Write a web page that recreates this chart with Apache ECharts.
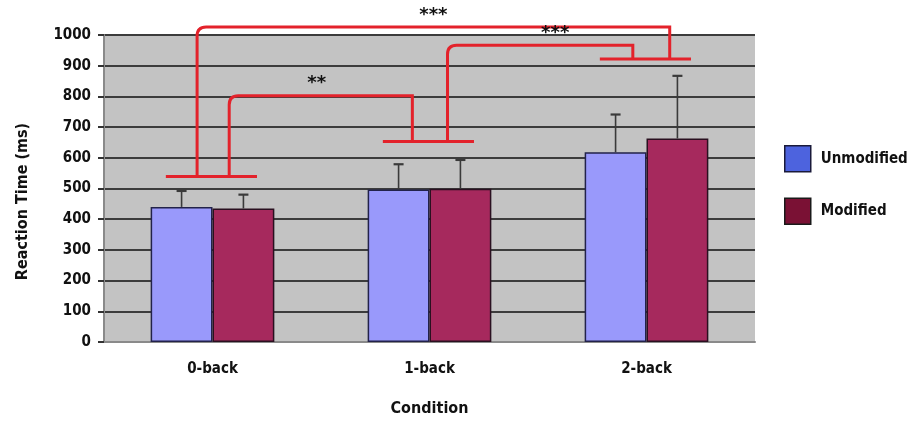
<!DOCTYPE html>
<html><head><meta charset="utf-8">
<script src="https://cdn.jsdelivr.net/npm/echarts@6/dist/echarts.min.js"></script>
<style>html,body{margin:0;padding:0;background:#fff}#c{width:907px;height:422px}</style>
</head><body><div id="c"></div>
<script>
const categories = ['0-back', '1-back', '2-back'];
const seriesNames = ['Unmodified', 'Modified'];
const unmodified = [440, 497, 618];
const modified = [435, 499, 663];
const unmodifiedErrTop = [492, 579, 741];
const modifiedErrTop = [480, 593, 867];
const yMin = 0, yMax = 1000, yInterval = 100;
// significance brackets (value levels)
const bracketFrom = [0, 0, 1];
const bracketTo = [1, 2, 2];
const bracketTop = [802, 1026, 967];
const bracketLabels = ['**', '***', '***'];
const bracketBase = [539, 653, 922]; // base bar level per category

const FONT = '"DejaVu Sans Condensed", "Liberation Sans Narrow", sans-serif';
const RED = '#e3222b';
// layout offsets (fraction of category band)
const fromOff = [0.077, -0.071, 0.083];
const toOff = [-0.079, 0.107, -0.063];
const labelShift = [-4, 0, 15];

const chart = echarts.init(document.getElementById('c'), null, {renderer: 'canvas'});

const errData = (vals, tops) => vals.map((v, i) => [i, v, tops[i]]);

function errRender(side) {
  return function (params, api) {
    const c = api.value(0);
    const p0 = api.coord([c, api.value(1)]);
    const p1 = api.coord([c, api.value(2)]);
    const band = api.size([1, 0])[0];
    const x = p0[0] + side * band * 0.1425;
    const st = {stroke: '#3a3a3a', lineWidth: 1.6};
    return {type: 'group', children: [
      {type: 'line', shape: {x1: x, y1: p0[1], x2: x, y2: p1[1]}, style: st},
      {type: 'line', shape: {x1: x - 5, y1: p1[1], x2: x + 5, y2: p1[1]}, style: {stroke: '#3a3a3a', lineWidth: 2.2}}
    ]};
  };
}

const bracketData = bracketFrom.map((f, i) => [f, bracketTo[i], bracketTop[i], bracketBase[f], bracketBase[bracketTo[i]], i]);

function bracketRender(params, api) {
  const f = api.value(0), t = api.value(1), top = api.value(2), bL = api.value(3), bR = api.value(4), k = api.value(5);
  const band = api.size([1, 0])[0];
  const pL = api.coord([f, bL]);
  const pR = api.coord([t, bR]);
  const pT = api.coord([f, top]);
  const xl = pL[0] + fromOff[k] * band;
  const xr = pR[0] + toOff[k] * band;
  const yt = pT[1];
  const r = 9;
  const d = `M ${xl} ${pL[1]} L ${xl} ${yt + r} Q ${xl} ${yt} ${xl + r} ${yt} L ${xr} ${yt} L ${xr} ${pR[1]}`;
  return {type: 'group', children: [
    {type: 'path', shape: {pathData: d}, style: {stroke: RED, lineWidth: 3, fill: null}},
    {type: 'text', style: {text: bracketLabels[k], x: (xl + xr) / 2 + labelShift[k], y: yt - 3, align: 'center', verticalAlign: 'bottom', font: 'bold 18px "DejaVu Sans", sans-serif', fill: '#111'}}
  ]};
}

function baseRender(params, api) {
  const c = api.value(0);
  const p = api.coord([c, api.value(1)]);
  const band = api.size([1, 0])[0];
  return {type: 'line', shape: {x1: p[0] - 0.215 * band, y1: p[1], x2: p[0] + 0.205 * band, y2: p[1]}, style: {stroke: RED, lineWidth: 3}};
}

chart.setOption({
  animation: false,
  grid: {left: 104, right: 152, top: 35, bottom: 79, show: true, backgroundColor: '#c3c3c3', borderWidth: 0},
  legend: {
    orient: 'vertical', left: 784, top: 145, itemGap: 25, itemWidth: 26, itemHeight: 26, padding: 0,
    icon: 'rect',
    textStyle: {fontFamily: FONT, fontWeight: 'bold', fontSize: 15, color: '#111', padding: [0, 0, 0, 5]},
    data: [
      {name: seriesNames[0], itemStyle: {color: '#4d63de', borderColor: '#1a1a3a', borderWidth: 1.5}},
      {name: seriesNames[1], itemStyle: {color: '#7a1134', borderColor: '#1a1a1a', borderWidth: 1.5}}
    ]
  },
  xAxis: {
    type: 'category', data: categories,
    name: 'Condition', nameLocation: 'middle', nameGap: 59,
    nameTextStyle: {fontFamily: FONT, fontWeight: 'bold', fontSize: 16, color: '#111'},
    axisLine: {lineStyle: {color: '#8a8a8a', width: 2}},
    axisTick: {length: 5, lineStyle: {color: '#777'}},
    axisLabel: {fontFamily: FONT, fontWeight: 'bold', fontSize: 15, color: '#111', margin: 20}
  },
  yAxis: {
    type: 'value', min: yMin, max: yMax, interval: yInterval,
    name: 'Reaction Time (ms)', nameLocation: 'middle', nameGap: 73, nameRotate: 90,
    nameTextStyle: {fontFamily: FONT, fontWeight: 'bold', fontSize: 16, color: '#111', padding: [0, 26, 0, 0]},
    axisLine: {show: true, lineStyle: {color: '#8a8a8a', width: 2}},
    axisTick: {show: true, length: 6, lineStyle: {color: '#333', width: 2}},
    axisLabel: {fontFamily: FONT, fontWeight: 'bold', fontSize: 15, color: '#111', margin: 13, formatter: v => String(v)},
    splitLine: {lineStyle: {color: '#3c3c3c', width: 2}}
  },
  series: [
    {name: seriesNames[0], type: 'bar', data: unmodified, barGap: '0%', barCategoryGap: '43%',
      itemStyle: {color: '#9999fb', borderColor: '#22224a', borderWidth: 1.5}},
    {name: seriesNames[1], type: 'bar', data: modified,
      itemStyle: {color: '#a6295d', borderColor: '#2a1020', borderWidth: 1.5}},
    {type: 'custom', renderItem: errRender(-1), data: errData(unmodified, unmodifiedErrTop), encode: {x: 0, y: [1, 2]}, z: 3, silent: true},
    {type: 'custom', renderItem: errRender(1), data: errData(modified, modifiedErrTop), encode: {x: 0, y: [1, 2]}, z: 3, silent: true},
    {type: 'custom', renderItem: bracketRender, data: bracketData, encode: {x: [0, 1], y: [2, 3, 4]}, clip: false, z: 5, silent: true},
    {type: 'custom', renderItem: baseRender, data: bracketBase.map((v, i) => [i, v]), encode: {x: 0, y: 1}, clip: false, z: 6, silent: true}
  ]
});
</script></body></html>
